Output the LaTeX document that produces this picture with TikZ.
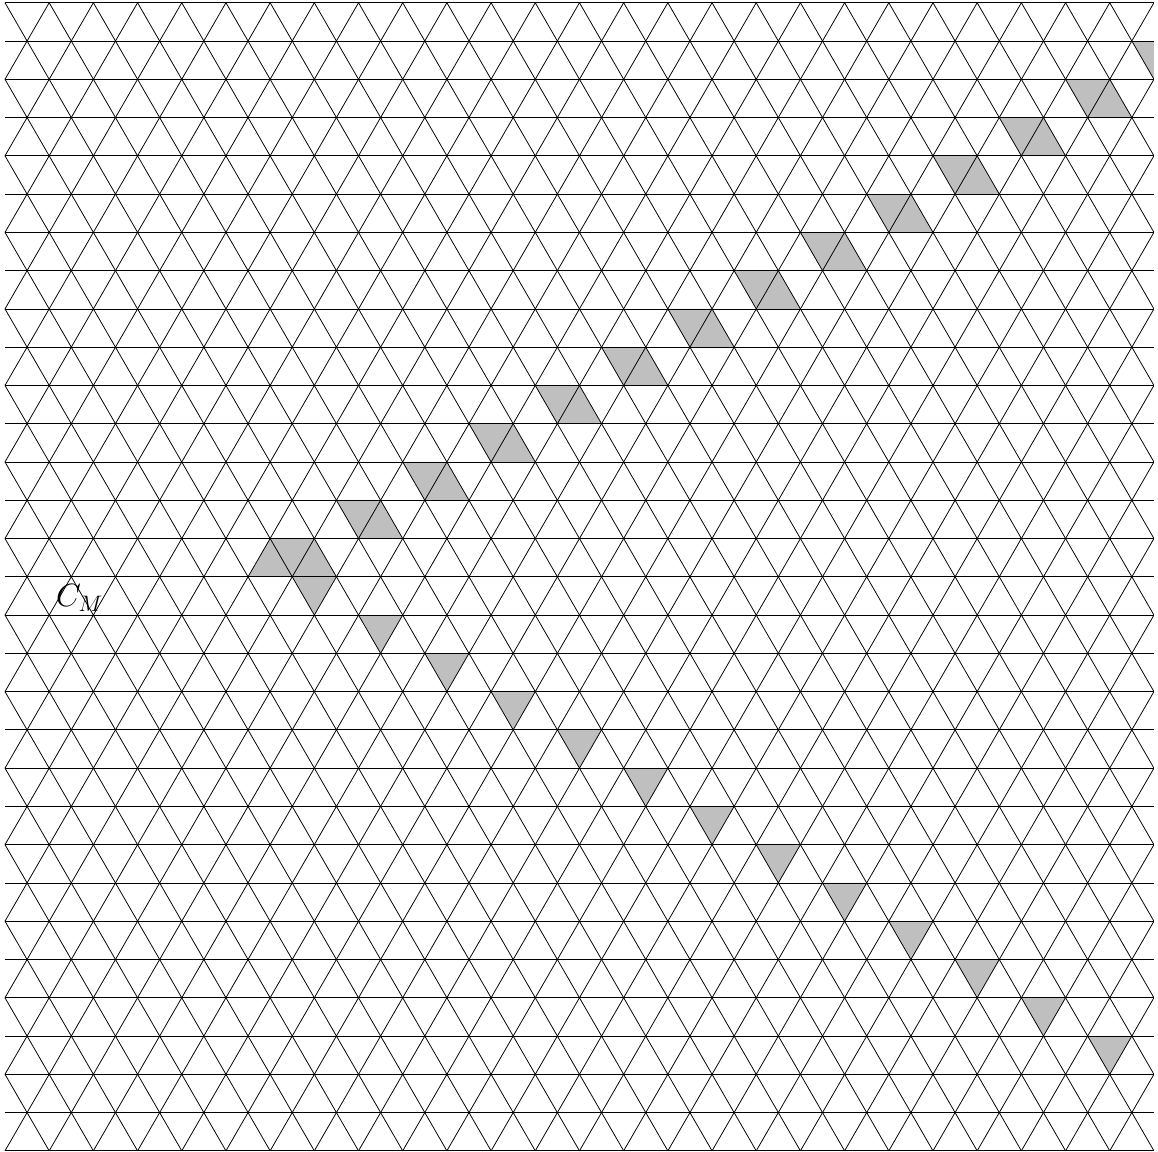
\documentclass[tikz,border=0pt]{standalone}
\begin{document}
\begin{tikzpicture}[x=1cm,y=1cm,
  latline/.style={line width=0.5pt, black},
  shadetri/.style={fill=black!25}]
\def\h{0.8660254}
\useasboundingbox (-0.113,-0.023) rectangle (26.092,26.043);
\begin{scope}
\clip (0,-0.03) rectangle (26,{30*\h+0.03});
% upper chain of rhombi
\foreach \k in {16,...,29}{
  \pgfmathsetmacro\a{6+1.5*(\k-16)}
  \fill[shadetri] (\a,{\k*\h}) -- ({\a+1},{\k*\h}) -- ({\a+1.5},{(\k-1)*\h}) -- ({\a+0.5},{(\k-1)*\h}) -- cycle;
}
% extra up triangle
\fill[shadetri] (5.5,{15*\h}) -- (6.5,{15*\h}) -- (6,{16*\h}) -- cycle;
% lower chain of down triangles
\foreach \j in {0,...,12}{
  \pgfmathsetmacro\b{6.5+1.5*\j}
  \fill[shadetri] (\b,{(15-\j)*\h}) -- ({\b+1},{(15-\j)*\h}) -- ({\b+0.5},{(14-\j)*\h}) -- cycle;
}
% lattice
\foreach \k in {0,...,30} \draw[latline] (0,{\k*\h}) -- (26,{\k*\h});
\foreach \c in {-15,...,26} \draw[latline] (\c,0) -- ({\c+15},{30*\h});
\foreach \c in {0,...,41} \draw[latline] (\c,0) -- ({\c-15},{30*\h});
\end{scope}
\node[anchor=base west, inner sep=0, font=\huge] (cm) at (1.15,12.31) {$C_M$};
\end{tikzpicture}
\end{document}
